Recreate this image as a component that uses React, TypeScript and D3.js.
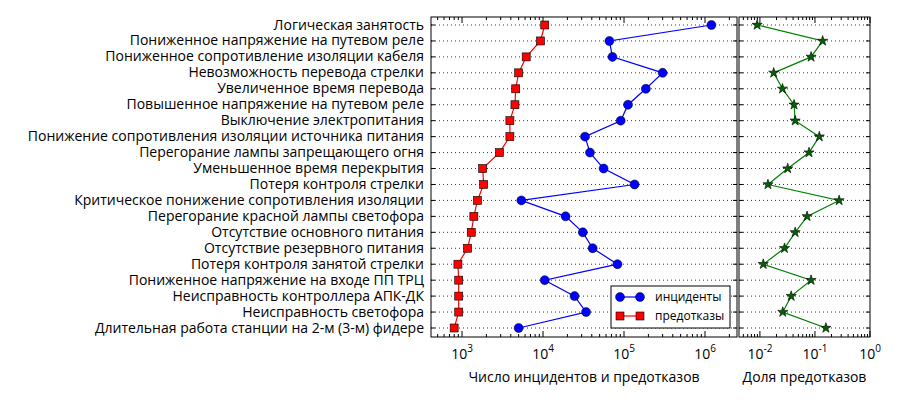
import React from "react";
import * as d3 from "d3";

const categories = [
  "Логическая занятость",
  "Пониженное напряжение на путевом реле",
  "Пониженное сопротивление изоляции кабеля",
  "Невозможность перевода стрелки",
  "Увеличенное время перевода",
  "Повышенное напряжение на путевом реле",
  "Выключение электропитания",
  "Понижение сопротивления изоляции источника питания",
  "Перегорание лампы запрещающего огня",
  "Уменьшенное время перекрытия",
  "Потеря контроля стрелки",
  "Критическое понижение сопротивления изоляции",
  "Перегорание красной лампы светофора",
  "Отсутствие основного питания",
  "Отсутствие резервного питания",
  "Потеря контроля занятой стрелки",
  "Пониженное напряжение на входе ПП ТРЦ",
  "Неисправность контроллера АПК-ДК",
  "Неисправность светофора",
  "Длительная работа станции на 2-м (3-м) фидере",
];
const incidents = [1.2e6, 6.6e4, 7.2e4, 3.0e5, 1.86e5, 1.12e5, 9.1e4, 3.3e4, 3.8e4, 5.6e4, 1.35e5, 5.4e3, 1.9e4, 3.1e4, 4.1e4, 8.3e4, 1.05e4, 2.45e4, 3.4e4, 5.0e3];
const prefailures = [1.05e4, 9.3e3, 6.2e3, 5.0e3, 4.6e3, 4.5e3, 3.9e3, 3.9e3, 2.9e3, 1.8e3, 1.85e3, 1.55e3, 1.4e3, 1.3e3, 1.17e3, 890, 910, 910, 910, 800];
const share = [0.0089, 0.138, 0.085, 0.0178, 0.0257, 0.0417, 0.0437, 0.12, 0.078, 0.032, 0.014, 0.275, 0.072, 0.0437, 0.028, 0.0115, 0.085, 0.037, 0.026, 0.158];
const leftTicks = [3, 4, 5, 6];
const rightTicks = [-2, -1, 0];

const FONT = "Open Sans, DejaVu Sans, sans-serif";
const top = 17, bottom = 337;

function minorTicks(lo: number, hi: number) {
  const out: number[] = [];
  for (let e = Math.floor(lo); e <= Math.ceil(hi); e++)
    for (let m = 1; m < 10; m++) {
      const v = m * Math.pow(10, e);
      const l = Math.log10(v);
      if (l >= lo && l <= hi) out.push(v);
    }
  return out;
}

function Panel({ x0, x1, domain, ticks, series, xlabel, y, legend }: any) {
  const x = d3.scaleLog().domain(domain).range([x0, x1]);
  const lo = Math.log10(domain[0]), hi = Math.log10(domain[1]);
  const minors = minorTicks(lo, hi);
  return (
    <g>
      {categories.map((c, i) => (
        <g key={i}>
          <line x1={x0} x2={x1} y1={y(i)} y2={y(i)} stroke="#000" strokeWidth={0.8} strokeDasharray="1,3" />
          <line x1={x0} x2={x0 + 4} y1={y(i)} y2={y(i)} stroke="#000" />
          <line x1={x1 - 4} x2={x1} y1={y(i)} y2={y(i)} stroke="#000" />
        </g>
      ))}
      {minors.map((v, i) => {
        const major = Number.isInteger(Math.round(Math.log10(v) * 1000) / 1000);
        const len = major ? 6 : 3;
        return (
          <g key={i}>
            <line x1={x(v)} x2={x(v)} y1={bottom} y2={bottom - len} stroke="#000" />
            <line x1={x(v)} x2={x(v)} y1={top} y2={top + len} stroke="#000" />
          </g>
        );
      })}
      {series.map((s: any, si: number) => {
        const line = d3.line<number>().x((d) => x(d)).y((_, i) => y(i));
        return (
          <g key={si}>
            <path d={line(s.values) || ""} fill="none" stroke={s.color} strokeWidth={1.2} />
            {s.values.map((v: number, i: number) => {
              const cx = x(v), cy = y(i);
              if (s.marker === "o") return <circle key={i} cx={cx} cy={cy} r={4.5} fill={s.color} stroke="#000" strokeWidth={0.5} />;
              if (s.marker === "s") return <rect key={i} x={cx - 4} y={cy - 4} width={8} height={8} fill={s.color} stroke="#000" strokeWidth={0.6} />;
              return <path key={i} d={d3.symbol(d3.symbolStar, 32)() || ""} transform={`translate(${cx},${cy})`} fill="#006400" stroke="#000" strokeWidth={0.6} />;
            })}
          </g>
        );
      })}
      <rect x={x0} y={top} width={x1 - x0} height={bottom - top} fill="none" stroke="#000" strokeWidth={1} />
      {ticks.map((e: number) => (
        <text key={e} x={x(Math.pow(10, e))} y={359} textAnchor="middle" fontFamily={FONT} fontSize={14}>
          10<tspan dy={-7} fontSize={10}>{e}</tspan>
        </text>
      ))}
      <text x={(x0 + x1) / 2} y={382} textAnchor="middle" fontFamily={FONT} fontSize={14}>{xlabel}</text>
      {legend}
    </g>
  );
}

export default function App() {
  const y = d3.scaleLinear().domain([0, categories.length - 1]).range([25, 328]);
  const legend = (
    <g fontFamily={FONT} fontSize={12}>
      <rect x={611} y={286} width={119} height={42} fill="#fff" stroke="#000" />
      <line x1={618} x2={642} y1={297} y2={297} stroke="blue" strokeWidth={1.2} />
      <circle cx={620} cy={297} r={4.5} fill="blue" stroke="#000" strokeWidth={0.5} />
      <circle cx={640} cy={297} r={4.5} fill="blue" stroke="#000" strokeWidth={0.5} />
      <text x={655} y={301}>инциденты</text>
      <line x1={618} x2={642} y1={316} y2={316} stroke="red" strokeWidth={1.2} />
      <rect x={616} y={312} width={8} height={8} fill="red" stroke="#000" strokeWidth={0.6} />
      <rect x={636} y={312} width={8} height={8} fill="red" stroke="#000" strokeWidth={0.6} />
      <text x={655} y={320}>предотказы</text>
    </g>
  );
  return (
    <svg width={900} height={400} style={{ position: "absolute", left: 0, top: 0 }}>
      <rect width={900} height={400} fill="#fff" />
      {categories.map((c, i) => (
        <text key={i} x={424} y={y(i) + 4.5} textAnchor="end" fontFamily={FONT} fontSize={14}>{c}</text>
      ))}
      <Panel x0={431} x1={737} domain={[Math.pow(10, 2.617), Math.pow(10, 6.395)]} ticks={leftTicks} y={y}
        series={[{ values: incidents, color: "blue", marker: "o" }, { values: prefailures, color: "red", marker: "s" }]}
        xlabel="Число инцидентов и предотказов" legend={legend} />
      <Panel x0={739} x1={870} domain={[Math.pow(10, -2.38), 1]} ticks={rightTicks} y={y}
        series={[{ values: share, color: "green", marker: "*" }]} xlabel="Доля предотказов" legend={null} />
    </svg>
  );
}
